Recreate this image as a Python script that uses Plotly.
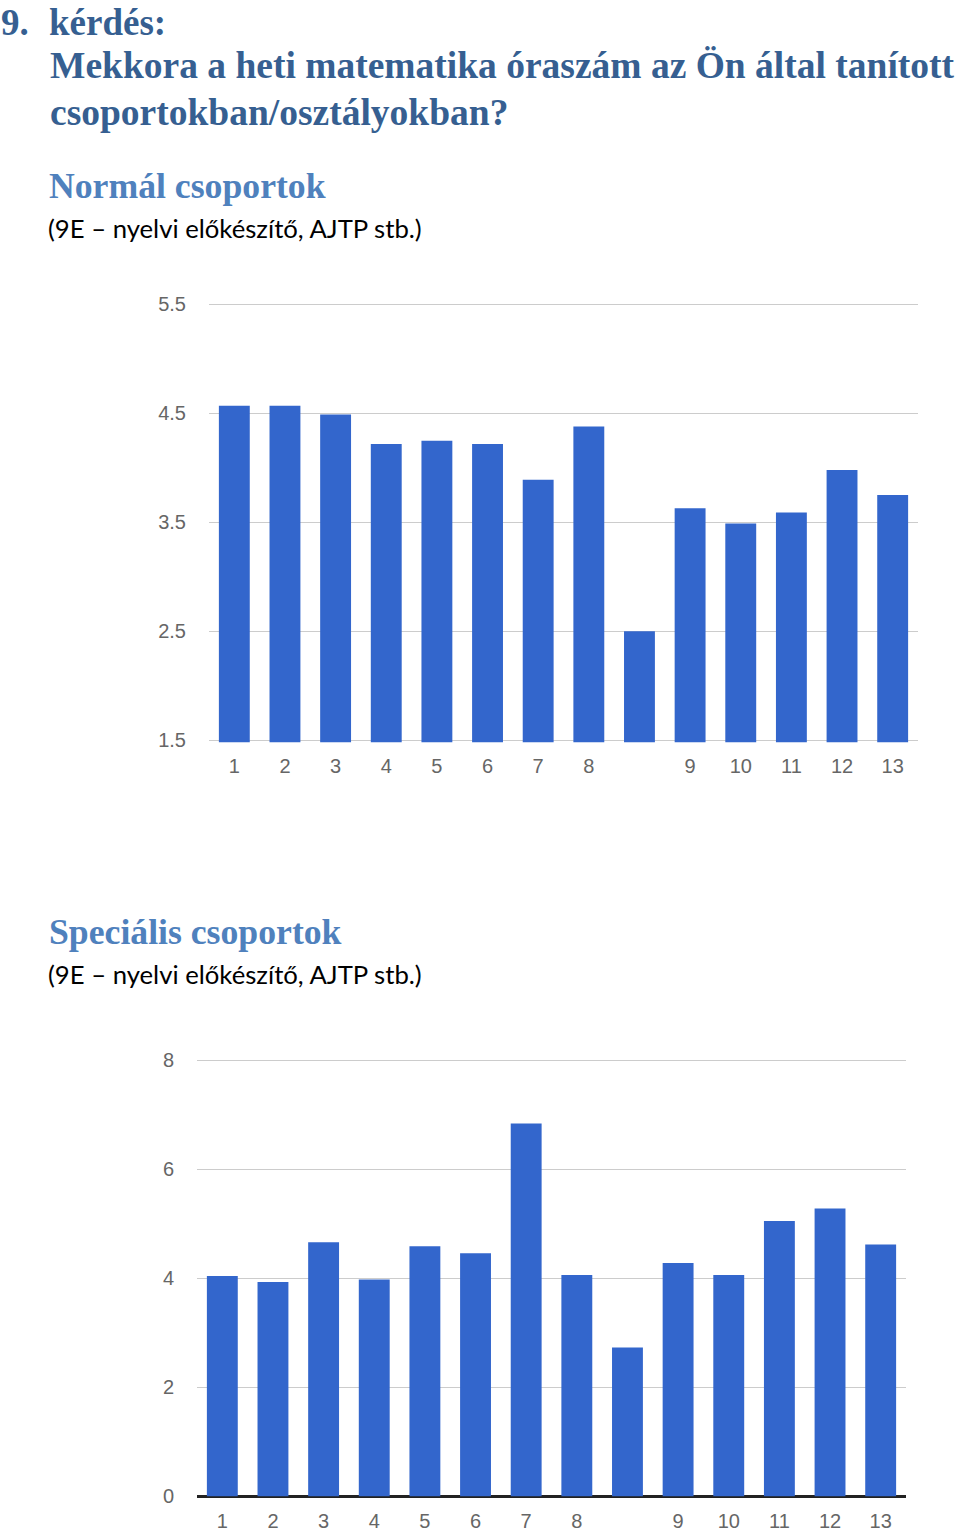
import plotly.graph_objects as go

labels = ["1", "2", "3", "4", "5", "6", "7", "8", "", "9", "10", "11", "12", "13"]
normal_values = [4.57, 4.57, 4.49, 4.22, 4.25, 4.22, 3.89, 4.38, 2.5, 3.63, 3.49, 3.59, 3.98, 3.75]
special_values = [4.04, 3.93, 4.66, 3.98, 4.59, 4.46, 6.84, 4.06, 2.73, 4.28, 4.06, 5.05, 5.28, 4.62]
normal_ticks = [1.5, 2.5, 3.5, 4.5, 5.5]
special_ticks = [0, 2, 4, 6, 8]

W, H = 960, 1532
BAR = "#3366CC"
HEAD = "#365F91"
SUB = "#4F81BD"
TICKFONT = dict(family="Liberation Sans Narrow, Liberation Sans, Arial", size=20, color="#666666")

# the captured page is drawn slightly squeezed vertically; map target pixel rows to paper fractions
A, B = 0.987, 9.3
def fy(y_px):
    return 1 - ((y_px - B) / A) / H

PAD = 2.2  # px of extra room so edge gridlines are drawn

# chart 1 geometry (target pixels)
c1_top, c1_bot = 305, 741
c1_lo, c1_hi = normal_ticks[0], normal_ticks[-1]
c1_ppu = (c1_bot - c1_top) / (c1_hi - c1_lo)
# chart 2 geometry
c2_top, c2_bot = 1061.5, 1497.5
c2_lo, c2_hi = special_ticks[0], special_ticks[-1]
c2_ppu = (c2_bot - c2_top) / (c2_hi - c2_lo)

xs = list(range(len(labels)))

fig = go.Figure()
fig.add_trace(go.Bar(x=xs, y=normal_values, marker_color=BAR, marker_line_width=0,
                     xaxis="x", yaxis="y", showlegend=False))
fig.add_trace(go.Bar(x=xs, y=special_values, marker_color=BAR, marker_line_width=0,
                     xaxis="x2", yaxis="y2", showlegend=False))

common_x = dict(range=[-0.5, len(labels) - 0.5], tickvals=xs, ticktext=labels, tickfont=TICKFONT,
                ticks="outside", ticklen=6, tickcolor="rgba(0,0,0,0)",
                showgrid=False, zeroline=False, showline=False, fixedrange=True)

fig.update_layout(
    width=W, height=H,
    margin=dict(l=0, r=0, t=0, b=0),
    paper_bgcolor="white", plot_bgcolor="white",
    bargap=0.39,
    xaxis=dict(domain=[209 / W, 918 / W], anchor="y", **common_x),
    yaxis=dict(domain=[fy(c1_bot + PAD), fy(c1_top - PAD)], anchor="x",
               range=[c1_lo - PAD / c1_ppu, c1_hi + PAD / c1_ppu],
               tickvals=normal_ticks, ticktext=[str(v) for v in normal_ticks], tickfont=TICKFONT,
               ticks="outside", ticklen=18, tickcolor="rgba(0,0,0,0)",
               showgrid=True, gridcolor="#CCCCCC", gridwidth=1, zeroline=False, showline=False),
    xaxis2=dict(domain=[197 / W, 906 / W], anchor="y2", **dict(common_x, ticklen=5)),
    yaxis2=dict(domain=[fy(c2_bot + PAD), fy(c2_top - PAD)], anchor="x2",
                range=[c2_lo - PAD / c2_ppu, c2_hi + PAD / c2_ppu],
                tickvals=special_ticks, ticktext=[str(v) for v in special_ticks], tickfont=TICKFONT,
                ticks="outside", ticklen=18, tickcolor="rgba(0,0,0,0)",
                showgrid=True, gridcolor="#CCCCCC", gridwidth=1,
                zeroline=True, zerolinecolor="#222222", zerolinewidth=2.5, showline=False),
)

serif = "Liberation Serif, DejaVu Serif, serif"
sans = "Lato, Liberation Sans"

# first heading line: anchored by its top so the whole text box stays inside the page
top_line_paper = 1 - (-8.5) / H
for t, x in [("<b>9.</b>", 0), ("<b>kérdés:</b>", 48)]:
    fig.add_annotation(text=t, x=x / W, y=top_line_paper, xref="paper", yref="paper",
                       xanchor="left", yanchor="top", showarrow=False, borderpad=0,
                       font=dict(family=serif, size=37, color=HEAD))

texts = [
    ("<b>Mekkora a heti matematika óraszám az Ön által tanított</b>", 48, 66, dict(family=serif, size=37.5, color=HEAD)),
    ("<b>csoportokban/osztályokban?</b>", 48, 113, dict(family=serif, size=37.5, color=HEAD)),
    ("<b>Normál csoportok</b>", 47, 186, dict(family=serif, size=35.7, color=SUB)),
    ("(9E – nyelvi előkészítő, AJTP stb.)", 46, 228, dict(family=sans, size=25.7, color="#000000")),
    ("<b>Speciális csoportok</b>", 47, 933, dict(family=serif, size=35.7, color=SUB)),
    ("(9E – nyelvi előkészítő, AJTP stb.)", 46, 975, dict(family=sans, size=25.7, color="#000000")),
]
for t, x, y, f in texts:
    fig.add_annotation(text=t, x=x / W, y=fy(y), xref="paper", yref="paper",
                       xanchor="left", yanchor="middle", showarrow=False, font=f)

fig.write_html("out.html")
